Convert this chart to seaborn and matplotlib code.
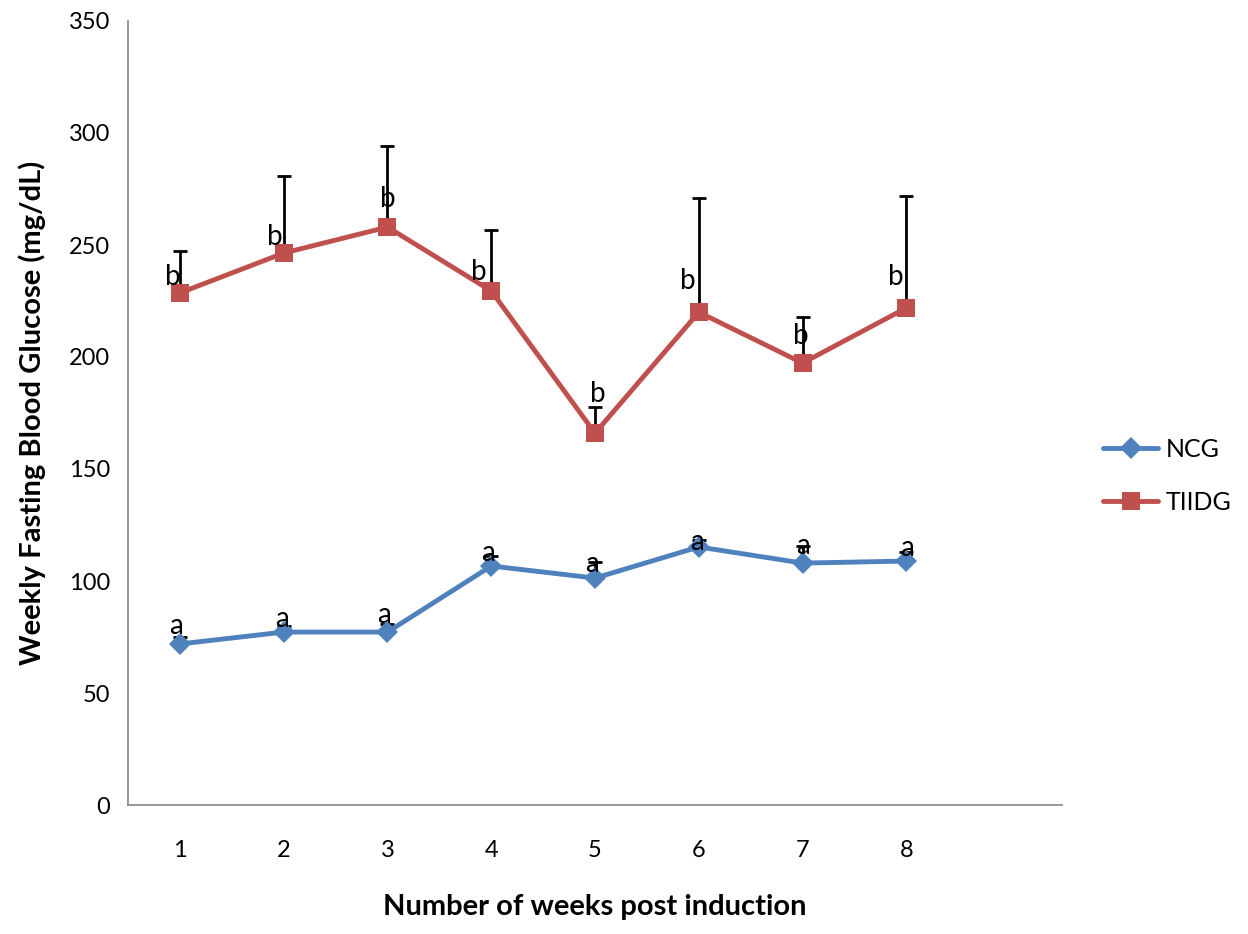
import numpy as np
import pandas as pd
import seaborn as sns
import matplotlib.pyplot as plt
from matplotlib.ticker import FixedLocator, NullFormatter

# values
weeks = [1, 2, 3, 4, 5, 6, 7, 8]
ncg_mean = [71.9, 77.2, 77.2, 106.7, 101.3, 115.2, 108.0, 108.9]
ncg_sd = [3.0, 2.7, 3.5, 4.5, 7.0, 3.0, 7.5, 4.0]
tiidg_mean = [228.6, 246.4, 258.0, 229.5, 166.0, 220.0, 197.3, 221.9]
tiidg_sd = [18.7, 34.4, 36.2, 27.2, 11.7, 51.0, 20.6, 50.0]
ncg_letters = ['a'] * 8
tiidg_letters = ['b'] * 8

# label offsets (category units, y units) relative to the point
ncg_off = [(-0.04, 8), (-0.02, 6), (-0.03, 7.5), (-0.03, 6), (-0.03, 6.5), (-0.02, 2), (0.0, 7.5), (0.01, 6)]
tiidg_off = [(-0.07, 7), (-0.09, 7), (0.0, 12.5), (-0.12, 8.5), (0.03, 17.5), (-0.11, 14), (-0.02, 12), (-0.1, 14)]

sns.set_style('white')
plt.rcParams['font.family'] = ['Lato', 'DejaVu Sans']
plt.rcParams['text.color'] = 'black'
plt.rcParams['axes.labelcolor'] = 'black'
plt.rcParams['xtick.labelcolor'] = 'black'
plt.rcParams['ytick.labelcolor'] = 'black'

blue = '#4F81BD'
red = '#C0504D'

df = pd.DataFrame({
    'x': list(range(len(weeks))) * 2,
    'y': ncg_mean + tiidg_mean,
    'group': ['NCG'] * len(weeks) + ['TIIDG'] * len(weeks),
})

fig = plt.figure(figsize=(12.48, 9.34), dpi=100)
ax = fig.add_axes([128 / 1248, 1 - 805 / 934, (1062 - 128) / 1248, (805 - 21) / 934])

xs = np.arange(len(weeks))
ax.errorbar(xs, ncg_mean, yerr=[np.zeros(8), ncg_sd], fmt='none', ecolor='black',
            elinewidth=2, capsize=5, capthick=2, zorder=1)
ax.errorbar(xs, tiidg_mean, yerr=[np.zeros(8), tiidg_sd], fmt='none', ecolor='black',
            elinewidth=2, capsize=5, capthick=2, zorder=1)

sns.lineplot(data=df, x='x', y='y', hue='group', style='group',
             palette={'NCG': blue, 'TIIDG': red},
             markers={'NCG': 'D', 'TIIDG': 's'}, dashes=False,
             linewidth=3.5, markersize=13, markeredgewidth=0, ax=ax, zorder=3)
for line in ax.lines:
    if line.get_marker() == 'D':
        line.set_markersize(11)

for i in range(len(weeks)):
    dx, dy = ncg_off[i]
    ax.text(xs[i] + dx, ncg_mean[i] + dy, ncg_letters[i], ha='center', va='center',
            fontsize=20, zorder=5)
    dx, dy = tiidg_off[i]
    ax.text(xs[i] + dx, tiidg_mean[i] + dy, tiidg_letters[i], ha='center', va='center',
            fontsize=20, zorder=5)

ax.set_xlim(-0.5, 8.5)
ax.set_ylim(0, 350)
ax.set_yticks(range(0, 351, 50))
ax.xaxis.set_major_locator(FixedLocator(np.arange(-0.5, 8.6, 1)))
ax.xaxis.set_major_formatter(NullFormatter())
ax.xaxis.set_minor_locator(FixedLocator(xs))
ax.set_xticklabels([str(w) for w in weeks], minor=True)
ax.tick_params(axis='x', which='major', direction='out', length=8, width=1.2, color='#868686')
ax.tick_params(axis='x', which='minor', length=0, pad=25, labelsize=17)
ax.tick_params(axis='y', direction='out', length=7, width=1.2, color='#868686', labelsize=17, pad=6)

for s in ['top', 'right']:
    ax.spines[s].set_visible(False)
for s in ['left', 'bottom']:
    ax.spines[s].set_color('#868686')
    ax.spines[s].set_linewidth(1.2)

ax.set_xlabel('Number of weeks post induction', fontsize=21, fontweight='bold', labelpad=24)
ax.set_ylabel('Weekly Fasting Blood Glucose (mg/dL)', fontsize=21, fontweight='bold', labelpad=16)

handles, labels = ax.get_legend_handles_labels()
ax.legend(handles, labels, loc='center left', bbox_to_anchor=(1.02, 0.42), frameon=False,
          fontsize=18, handlelength=2.2, labelspacing=1.2, handletextpad=0.3)

plt.savefig('out.png', dpi=100)
